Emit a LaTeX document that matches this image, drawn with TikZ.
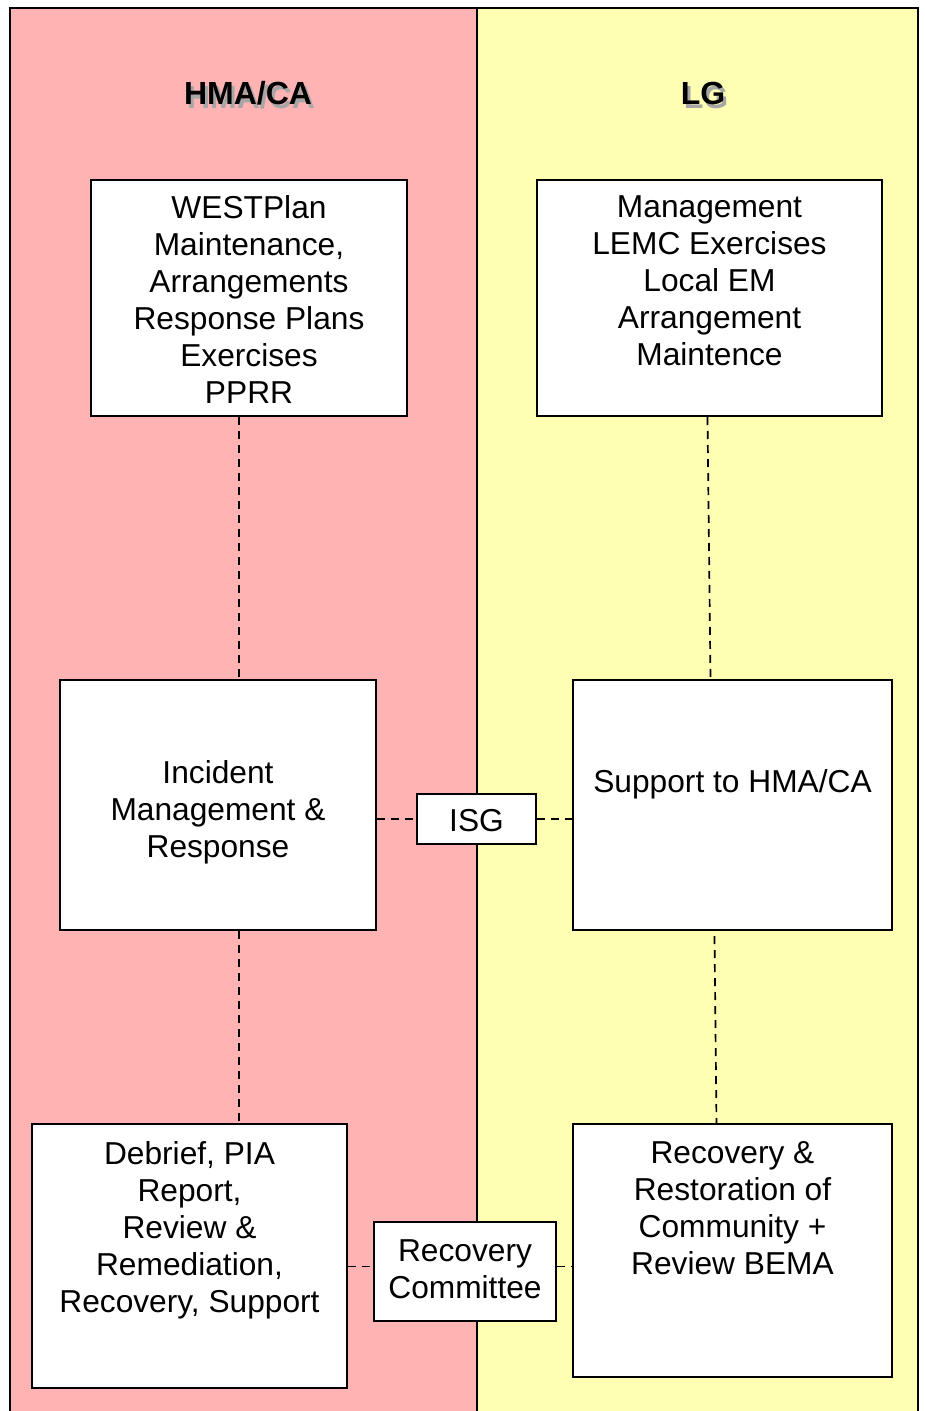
\documentclass[tikz,border=0pt]{standalone}
\usepackage{fontspec}
\setmainfont{Liberation Sans}
\usetikzlibrary{positioning,calc}
\definecolor{hmapink}{RGB}{255,179,179}
\definecolor{lgyellow}{RGB}{255,255,179}
% heading text with a soft drop shadow
\newcommand{\shadowtext}[1]{\makebox[0pt][l]{\hspace{3pt}\raisebox{-4pt}{\textcolor{black!35}{#1}}}#1}
\begin{document}
\begin{tikzpicture}[x=1pt, y=-1pt,
    box/.style={draw, line width=2pt, fill=white, inner sep=0pt, align=center,
        font=\fontsize{31.7}{37}\selectfont},
    txt/.style={inner sep=0pt, align=center, font=\fontsize{31.7}{37}\selectfont},
    head/.style={inner sep=0pt, font=\fontsize{32}{37}\selectfont\bfseries},
    link/.style={line width=1.7pt, dash pattern=on 8pt off 6pt}]
    \useasboundingbox (0,0) rectangle (924,1411);

    % Swimlanes
    \fill[hmapink] (10,8) rectangle (477,1420);
    \fill[lgyellow] (477,8) rectangle (918,1420);
    \draw[line width=2pt] (10,1420) -- (10,8) -- (918,8) -- (918,1420);
    \draw[line width=1.5pt] (477,8) -- (477,1420);

    % Lane headings
    \node[head] (hma) at (248,95) {\shadowtext{HMA/CA}};
    \node[head] (lg) at (703,95) {\shadowtext{LG}};

    % Boxes
    \node[box, minimum width=316, minimum height=236] (westbox) at (249,298) {};
    \node[box, minimum width=345, minimum height=236] (mgmtbox) at (709.5,298) {};
    \node[box, minimum width=316, minimum height=250] (incbox) at (218,805) {};
    \node[box, minimum width=319, minimum height=250] (suppbox) at (732.5,805) {};
    \node[box, minimum width=119, minimum height=50] (isgbox) at (476.5,819) {};
    \node[box, minimum width=315, minimum height=264] (debbox) at (189.5,1256) {};
    \node[box, minimum width=319, minimum height=253] (recbox) at (732.5,1250.5) {};
    \node[box, minimum width=182, minimum height=99] (combox) at (465,1271.5) {};

    % Box texts
    \node[txt, below=16pt of westbox.north] (westtext)
        {WESTPlan\\Maintenance,\\Arrangements\\Response Plans\\Exercises\\PPRR};
    \node[txt, below=16pt of mgmtbox.north] (mgmttext)
        {Management\\LEMC Exercises\\Local EM\\Arrangement\\Maintence};
    \node[txt, below=81pt of incbox.north] (inctext)
        {Incident\\Management \&\\Response};
    \node[txt, below=90pt of suppbox.north] (supptext) {Support to HMA/CA};
    \node[txt, below=16pt of isgbox.north] (isgtext) {ISG};
    \node[txt, below=18pt of debbox.north] (debtext)
        {Debrief, PIA\\Report,\\Review \&\\Remediation,\\Recovery, Support};
    \node[txt, below=18pt of recbox.north] (rectext)
        {Recovery \&\\Restoration of\\Community +\\Review BEMA};
    \node[txt, below=18pt of combox.north] (comtext) {Recovery\\Committee};

    % Links
    \draw[link] ([xshift=-10pt]westbox.south) -- ([xshift=21pt]incbox.north);
    \draw[link] ([xshift=-2pt]mgmtbox.south) -- ([xshift=-22pt]suppbox.north);
    \draw[link] (isgbox.west -| incbox.east) -- (isgbox.west);
    \draw[link] (isgbox.east) -- (isgbox.east -| suppbox.west);
    \draw[link] ([xshift=21pt]incbox.south) -- ([xshift=49.5pt]debbox.north);
    \draw[link] ([xshift=-18pt,yshift=-5pt]suppbox.south) -- ([xshift=-16pt]recbox.north);
    \draw[link] ([yshift=5pt]combox.west -| debbox.east) -- ([yshift=5pt]combox.west);
    \draw[link] ([yshift=5pt]combox.east) -- ([yshift=5pt]combox.east -| recbox.west);
\end{tikzpicture}
\end{document}
